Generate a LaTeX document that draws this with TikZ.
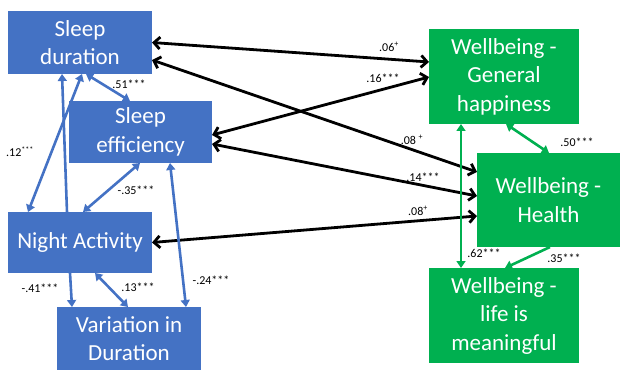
\documentclass[tikz,border=0pt]{standalone}
\usepackage{fontspec}
\setmainfont{Carlito}
\usepackage{tikz}
\usetikzlibrary{arrows.meta,calc}

\definecolor{boxblue}{HTML}{4472C4}
\definecolor{boxgreen}{HTML}{00B050}
\tikzset{tri/.tip={Triangle[length=7pt,width=9pt]},
	barb/.tip={Straight Barb[length=6pt,width=12pt]}}

\begin{document}
\begin{tikzpicture}[x=1pt,y=-1pt]
		\tikzstyle{sleep}=[fill=boxblue,text=white,inner sep=0pt,outer sep=0pt,align=center,font=\fontsize{23}{28.5}\selectfont]
		\tikzstyle{well}=[fill=boxgreen,text=white,inner sep=0pt,outer sep=0pt,align=center,font=\fontsize{23}{28.5}\selectfont]
		\tikzstyle{coef}=[inner sep=0pt,font=\fontsize{12}{14}\selectfont]
		\tikzstyle{blk}=[line width=2.8pt,black,barb-barb]
		\tikzstyle{blu}=[line width=2.6pt,boxblue]
		\tikzstyle{grn}=[line width=2.6pt,boxgreen]
		
		\useasboundingbox (0,0) rectangle (623,371);
		
		\node[sleep,minimum width=144pt,minimum height=63pt](dur) at (80,42.5){Sleep\\duration};
		\node[sleep,minimum width=143pt,minimum height=62pt](eff) at (140.5,132){Sleep\\efficiency};
		\node[sleep,minimum width=144pt,minimum height=61pt](night) at (80,242.5){Night Activity};
		\node[sleep,minimum width=144pt,minimum height=63pt](var) at (129,338.5){Variation in\\Duration};
		
		\node[well,minimum width=150pt,minimum height=95pt](happy) at (504,76.5){Wellbeing -\\General\\happiness};
		\node[well,minimum width=143pt,minimum height=94pt](health) at (548.5,200){Wellbeing -\\Health};
		\node[well,minimum width=150pt,minimum height=95pt](mean) at (504,315.5){Wellbeing -\\life is\\meaningful};
		
		% sleep -- wellbeing
		\draw[blk] (dur.east) -- ($(happy.north west)+(0,33)$);
		\draw[blk] ($(dur.north east)+(0,49)$) -- ($(health.north west)+(0,19)$);
		\draw[blk] ($(eff.north east)+(0,34)$) -- ($(happy.north west)+(0,48)$);
		\draw[blk] ($(eff.north east)+(0,43)$) -- ($(health.north west)+(0,43)$);
		\draw[blk] (night.east) -- ($(health.north west)+(0,63)$);
		
		% sleep
		\draw[blu,tri-tri] ($(dur.south west)+(78,0)$) -- ($(eff.north west)+(61,0)$);
		\draw[blu,-tri] ($(night.north west)+(59,0)$) -- ($(dur.south west)+(54,0)$);
		\draw[blu,tri-tri] ($(dur.south west)+(74,0)$) -- ($(night.north west)+(20,0)$);
		\draw[blu,tri-tri] ($(eff.south west)+(71,0)$) -- ($(night.north west)+(75,0)$);
		\draw[blu,tri-tri] ($(eff.south west)+(101,0)$) -- ($(var.north west)+(129,0)$);
		\draw[blu,-tri] ($(night.south west)+(62,0)$) -- ($(var.north west)+(15,0)$);
		\draw[blu,tri-tri] ($(night.south west)+(87,0)$) -- ($(var.north west)+(71,0)$);
		
		% wellbeing
		\draw[grn,tri-tri] ($(happy.south west)+(32,0)$) -- ($(mean.north west)+(32,0)$);
		\draw[grn,tri-tri] ($(happy.south west)+(77,0)$) -- ($(health.north west)+(72,0)$);
		\draw[grn,-tri] ($(health.south west)+(73,0)$) -- ($(mean.north west)+(76,0)$);
		
		\node[coef](c1) at (389,47){.06\textsuperscript{+}};
		\node[coef](c2) at (412,140){.08 \textsuperscript{+}};
		\node[coef](c3) at (383,78){.16***};
		\node[coef](c4) at (423,177){.14***};
		\node[coef](c5) at (418,211){.08\textsuperscript{+}};
		\node[coef](c6) at (129,84){.51***};
		\node[coef](c7) at (20,152){.12\textsuperscript{***}};
		\node[coef](c8) at (136,190){-.35***};
		\node[coef](c9) at (211,280){-.24***};
		\node[coef](c10) at (40,288){-.41***};
		\node[coef](c11) at (138,287){.13***};
		\node[coef](c12) at (484,253){.62***};
		\node[coef](c13) at (577,142){.50***};
		\node[coef](c14) at (564,258){.35***};
\end{tikzpicture}
\end{document}
